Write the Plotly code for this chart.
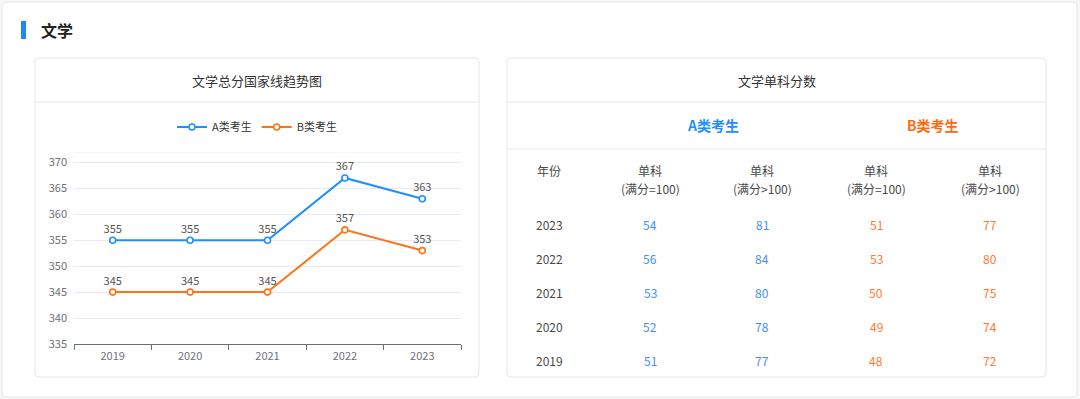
import plotly.graph_objects as go

W, H = 1080, 399

years = ["2019", "2020", "2021", "2022", "2023"]
a_total = [355, 355, 355, 367, 363]
b_total = [345, 345, 345, 357, 353]

table_years = ["2023", "2022", "2021", "2020", "2019"]
a_eq100 = [54, 56, 53, 52, 51]
a_gt100 = [81, 84, 80, 78, 77]
b_eq100 = [51, 53, 50, 49, 48]
b_gt100 = [77, 80, 75, 74, 72]

BLUE = "#1f8fff"
ORANGE = "#ff7315"
BLUE_T = "#3f8ff7"
ORANGE_T = "#ff7a30"
FONT = "Noto Sans CJK SC"


def px(x):
    return x / W


def py(y):
    return 1 - y / H


def rrect(x0, y0, x1, y1, r, color="#e6e6e6"):
    X0, X1 = px(x0), px(x1)
    Y0, Y1 = py(y0), py(y1)
    rx, ry = r / W, r / H
    path = (f"M {X0+rx},{Y0} L {X1-rx},{Y0} Q {X1},{Y0} {X1},{Y0-ry} "
            f"L {X1},{Y1+ry} Q {X1},{Y1} {X1-rx},{Y1} L {X0+rx},{Y1} "
            f"Q {X0},{Y1} {X0},{Y1+ry} L {X0},{Y0-ry} Q {X0},{Y0} {X0+rx},{Y0} Z")
    return dict(type="path", xref="paper", yref="paper", path=path,
                line=dict(color=color, width=1), fillcolor="white", layer="below")


def hline(x0, x1, y, color="#e8e8e8"):
    return dict(type="line", xref="paper", yref="paper", x0=px(x0), x1=px(x1),
                y0=py(y), y1=py(y), line=dict(color=color, width=1))


fig = go.Figure()

for name, vals, colr in [("A类考生", a_total, BLUE), ("B类考生", b_total, ORANGE)]:
    fig.add_trace(go.Scatter(
        x=years, y=vals, name=name, mode="lines+markers+text",
        text=[str(v) for v in vals], textposition="top center",
        textfont=dict(size=11, color="#555", family=FONT),
        line=dict(color=colr, width=2),
        marker=dict(symbol="circle", size=6, color="white", line=dict(color=colr, width=1.6)),
        cliponaxis=False,
    ))

shapes = [
    rrect(2, 2, 1077, 397, 5),
    rrect(35, 58, 479, 377, 4),
    rrect(507, 58, 1046, 377, 4),
    hline(35, 479, 102),
    hline(507, 1046, 102),
    hline(507, 1046, 149),
    dict(type="rect", xref="paper", yref="paper", x0=px(21), x1=px(26),
         y0=py(39), y1=py(21), fillcolor="#1a8cf0", line=dict(width=0)),
    dict(type="line", xref="x domain", yref="y", x0=0, x1=1, y0=372, y1=372,
         line=dict(color="#e9ebf2", width=1), layer="below"),
]

ann = []


def text(x, y, s, size=12, color="#333", bold=False):
    ann.append(dict(x=px(x), y=py(y), xref="paper", yref="paper", text=(f"<b>{s}</b>" if bold else s),
                    showarrow=False, xanchor="center", yanchor="middle",
                    font=dict(size=size, color=color, family=FONT)))


ann.append(dict(x=px(39), y=py(30), xref="paper", yref="paper", text="<b>文学</b>",
                showarrow=False, xanchor="left", yanchor="middle",
                font=dict(size=16, color="#222", family=FONT)))
text(257, 80, "文学总分国家线趋势图", 13, "#333")
text(777, 80, "文学单科分数", 13, "#333")
text(713, 125, "A类考生", 14, "#1f8fff", bold=True)
text(933, 125, "B类考生", 14, "#ff6a10", bold=True)

col_x = [549, 650, 762, 876, 990]
text(col_x[0], 170, "年份", 12, "#4a4a4a")
heads = ["(满分=100)", "(满分>100)", "(满分=100)", "(满分>100)"]
for i, h in enumerate(heads):
    text(col_x[i + 1], 170, "单科", 12, "#4a4a4a")
    text(col_x[i + 1], 188, h, 12, "#4a4a4a")

row_y = [224, 258, 292, 326, 360]
cols = [(a_eq100, BLUE_T), (a_gt100, BLUE_T), (b_eq100, ORANGE_T), (b_gt100, ORANGE_T)]
for r, yr in enumerate(table_years):
    text(col_x[0], row_y[r], yr, 12, "#4a4a4a")
    for c, (vals, colr) in enumerate(cols):
        text(col_x[c + 1], row_y[r], str(vals[r]), 12, colr)

fig.update_layout(
    width=W, height=H, autosize=False,
    margin=dict(l=0, r=0, t=0, b=0, pad=0, autoexpand=False),
    paper_bgcolor="#f7f7f7",
    plot_bgcolor="rgba(0,0,0,0)",
    font=dict(family=FONT, size=11, color="#6e7079"),
    showlegend=True,
    legend=dict(orientation="h", x=px(257), xanchor="center", y=py(127), yanchor="middle",
                font=dict(size=11, color="#333", family=FONT), bgcolor="rgba(0,0,0,0)",
                itemwidth=30, tracegroupgap=0),
    xaxis=dict(domain=[px(74), px(461)], type="category", tickson="boundaries",
               ticks="outside", ticklen=5, tickcolor="#6e7079", showline=True,
               linecolor="#6e7079", linewidth=1, showgrid=False, zeroline=False, automargin=False,
               ticklabelstandoff=2,
               tickfont=dict(size=11, color="#6e7079"), range=[-0.5, 4.5], fixedrange=True),
    yaxis=dict(domain=[py(344), py(152)], range=[335, 372], tickvals=list(range(335, 371, 5)),
               showgrid=True, gridcolor="#e9ebf2", zeroline=False, showline=False, automargin=False,
               ticklabelstandoff=6,
               ticks="", tickfont=dict(size=11, color="#6e7079"), fixedrange=True),
    shapes=shapes,
    annotations=ann,
)

fig.write_html("out.html",
               config={"displayModeBar": False, "responsive": False},
               post_script="document.body.style.margin='0';document.body.style.overflow='hidden';")
